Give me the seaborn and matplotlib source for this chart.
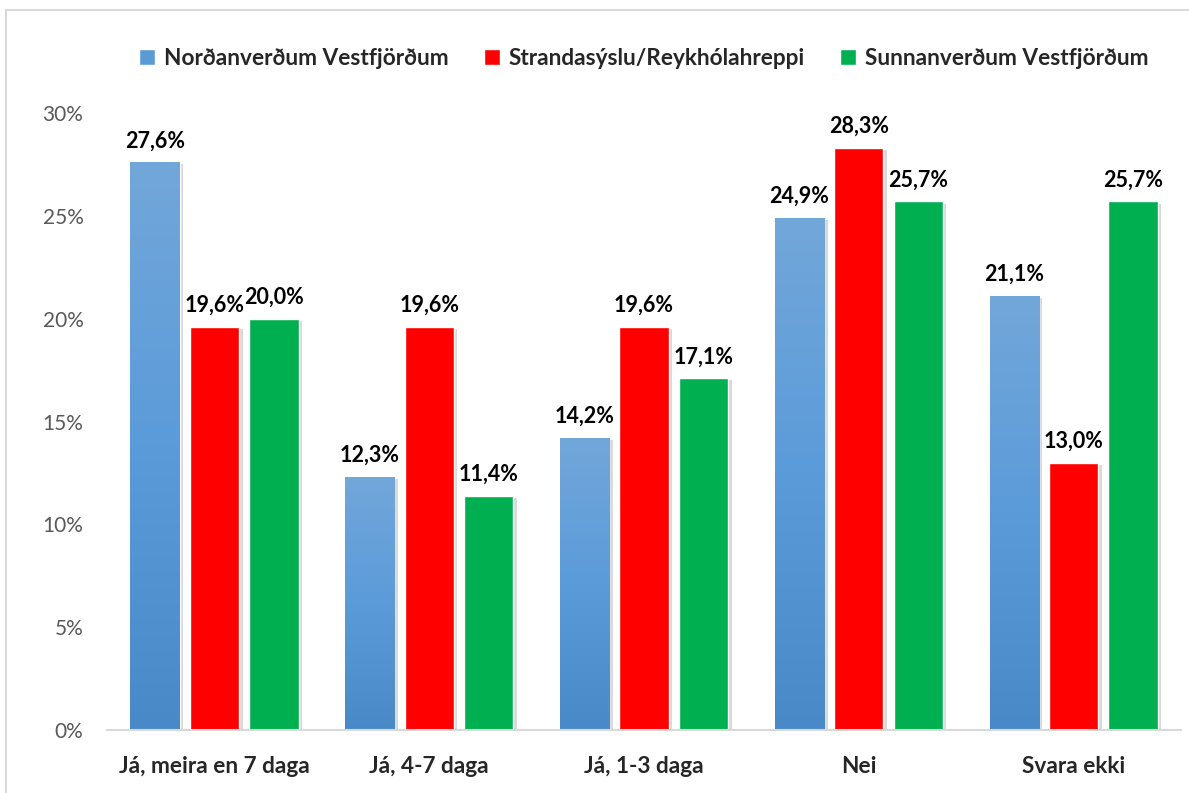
import numpy as np
import pandas as pd
import matplotlib
matplotlib.use('Agg')
import matplotlib.pyplot as plt
import matplotlib.patheffects as pe
from matplotlib.colors import LinearSegmentedColormap
from matplotlib.patches import Rectangle
from matplotlib.ticker import FuncFormatter
import seaborn as sns

# Chart data
categories = ['Já, meira en 7 daga', 'Já, 4-7 daga', 'Já, 1-3 daga', 'Nei', 'Svara ekki']
series = ['Norðanverðum Vestfjörðum', 'Strandasýslu/Reykhólahreppi', 'Sunnanverðum Vestfjörðum']
nordan = [27.6, 12.3, 14.2, 24.9, 21.1]
stranda = [19.6, 19.6, 19.6, 28.3, 13.0]
sunnan = [20.0, 11.4, 17.1, 25.7, 25.7]
yticks = [0, 5, 10, 15, 20, 25, 30]

colors = ['#5B9BD5', '#FF0000', '#00B050']

df = pd.DataFrame({
    'flokkur': categories * 3,
    'svæði': [s for s in series for _ in categories],
    'gildi': nordan + stranda + sunnan,
})

sns.set_style('white')
plt.rcParams['font.family'] = ['Lato', 'DejaVu Sans']

fig = plt.figure(figsize=(11.89, 7.93), dpi=100)
ax = fig.add_axes([0.09, 0.0794, 0.9033, 0.7781])

sns.barplot(data=df, x='flokkur', y='gildi', hue='svæði', order=categories,
            hue_order=series, palette=colors, width=0.83, gap=0.17,
            saturation=1, ax=ax, legend=True)

shadow = [pe.SimplePatchShadow(offset=(2.5, -1.5), shadow_rgbFace='#a0a0a0', alpha=0.4), pe.Normal()]

# gradient for the blue series
grad = LinearSegmentedColormap.from_list('bl', ['#4A89C8', '#5B9BD9', '#72A7DA'])
gimg = np.linspace(0, 1, 256).reshape(-1, 1)
for cont in ax.containers:
    for bar in cont:
        bar.set_path_effects(shadow)
for bar in ax.containers[0]:
    x0, y0 = bar.get_x(), bar.get_y()
    w, h = bar.get_width(), bar.get_height()
    im = ax.imshow(gimg, cmap=grad, origin='lower', aspect='auto',
                   extent=[x0, x0 + w, y0, y0 + h], zorder=bar.get_zorder() + 0.1)
    im.set_clip_path(bar)

for cont in ax.containers:
    ax.bar_label(cont, labels=[f'{v:.1f}%'.replace('.', ',') for v in cont.datavalues],
                 padding=8, fontsize=15.5, fontweight='bold', color='black')

ax.set_xlim(-0.5, len(categories) - 0.5)
ax.set_ylim(0, 30)
ax.set_yticks(yticks)
ax.yaxis.set_major_formatter(FuncFormatter(lambda v, p: f'{v:.0f}%'))
ax.set_xlabel('')
ax.set_ylabel('')
ax.tick_params(axis='y', length=0, pad=17, labelsize=15, labelcolor='#595959')
ax.tick_params(axis='x', length=0, pad=19, labelsize=16.3)
for lbl in ax.get_xticklabels():
    lbl.set_fontweight('bold')
for s in ['left', 'right', 'top']:
    ax.spines[s].set_visible(False)
ax.spines['bottom'].set_color('#d9d9d9')
ax.spines['bottom'].set_linewidth(1.5)
ax.set_facecolor('none')

handles, labels = ax.get_legend_handles_labels()
ax.legend(handles, labels, loc='center', bbox_to_anchor=(0.5, 1.088),
          ncol=3, frameon=False, handlelength=0.7, handleheight=0.7,
          handletextpad=0.4, columnspacing=1.55,
          prop={'size': 16.3, 'weight': 'bold'})

# light frame around the chart
fig.patches.append(Rectangle((6 / 1189, -0.05), 1.1, 1.05 - 10 / 793,
                             transform=fig.transFigure, fill=False,
                             edgecolor='#d9d9d9', linewidth=1.5))

fig.savefig('out.png', dpi=100)
plt.close(fig)
